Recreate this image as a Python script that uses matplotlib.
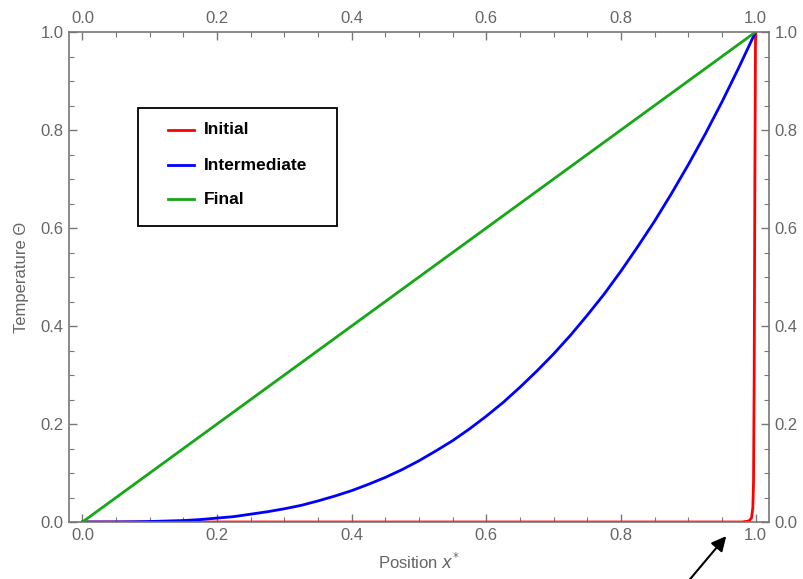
from matplotlib import pyplot as plt
from matplotlib.ticker import MultipleLocator
from matplotlib.patches import Rectangle

plt.rcParams['font.family'] = ['Liberation Sans', 'DejaVu Sans']

# Werte
x_init = [0.0, 0.5, 0.98, 0.99, 0.994, 0.996, 0.997, 0.998, 0.999, 1.0]
y_init = [0.0, 0.0, 0.0, 0.002, 0.008, 0.03, 0.08, 0.3, 0.7, 1.0]

x_mid = [0.0, 0.025, 0.05, 0.075, 0.10, 0.125, 0.15, 0.175, 0.20, 0.225,
         0.25, 0.275, 0.30, 0.325, 0.35, 0.375, 0.40, 0.425, 0.45, 0.475,
         0.50, 0.525, 0.55, 0.575, 0.60, 0.625, 0.65, 0.675, 0.70, 0.725,
         0.75, 0.775, 0.80, 0.825, 0.85, 0.875, 0.90, 0.925, 0.95, 0.975, 1.0]
y_mid = [0.0, 0.0, 0.0001, 0.0004, 0.001, 0.002, 0.003, 0.005, 0.008, 0.011,
         0.016, 0.021, 0.027, 0.034, 0.043, 0.053, 0.064, 0.077, 0.091, 0.107,
         0.125, 0.145, 0.166, 0.190, 0.216, 0.244, 0.275, 0.308, 0.343, 0.381,
         0.422, 0.465, 0.512, 0.562, 0.614, 0.670, 0.729, 0.791, 0.857, 0.927, 1.0]

x_final = [0.0, 1.0]
y_final = [0.0, 1.0]

labels = ["Initial", "Intermediate", "Final"]
colors = ["#ff0000", "#0000ff", "#16a616"]

grey = "#777777"
txt = "#666666"

fig = plt.figure(figsize=(8.04, 5.79), dpi=100)
ax = fig.add_axes([69/804, 57/579, 700/804, 490/579])

ax.plot(x_init, y_init, color=colors[0], lw=2)
ax.plot(x_mid, y_mid, color=colors[1], lw=2)
ax.plot(x_final, y_final, color=colors[2], lw=2)

ax.set_xlim(-0.02, 1.02)
ax.set_ylim(0, 1)

for a in (ax.xaxis, ax.yaxis):
    a.set_major_locator(MultipleLocator(0.2))
    a.set_minor_locator(MultipleLocator(0.05))
    a.set_major_formatter(plt.FormatStrFormatter('%.1f'))

ax.tick_params(which='both', direction='in', top=True, right=True,
               labeltop=True, labelright=True, color=grey,
               labelcolor=txt, labelsize=12, pad=4)
ax.tick_params(which='major', length=6, width=1)
ax.tick_params(which='minor', length=3.5, width=0.8)
for s in ax.spines.values():
    s.set_color(grey)
    s.set_linewidth(1.2)

ax.set_xlabel(r"Position $x^{*}$", color=txt, fontsize=12, labelpad=7)
ax.set_ylabel("Temperature Θ", color=txt, fontsize=12, labelpad=8)

# Legende von Hand
def px(x, y):
    return ((x - 69) / 700.0, (522 - y) / 490.0)

x0, y0 = px(138, 226)
x1, y1 = px(337, 108)
ax.add_patch(Rectangle((x0, y0), x1 - x0, y1 - y0, transform=ax.transAxes,
                       facecolor='white', edgecolor='black', lw=1.3, zorder=5))
rows = [130, 165, 199]
for i in range(len(labels)):
    hx0, hy = px(168, rows[i])
    hx1, _ = px(194, rows[i])
    tx, _ = px(204, rows[i])
    ax.plot([hx0, hx1], [hy, hy], color=colors[i], lw=2,
            transform=ax.transAxes, zorder=6)
    ax.text(tx, hy, labels[i], transform=ax.transAxes, fontsize=12.5,
            fontweight='bold', va='center', ha='left', color='black', zorder=6)

# Pfeil unten rechts
ax.annotate('', xy=(728/804, 45/579), xytext=(686/804, -5/579),
            xycoords='figure fraction', textcoords='figure fraction',
            arrowprops=dict(arrowstyle='-|>', color='black', lw=1.5,
                            mutation_scale=22), annotation_clip=False)

plt.savefig("out.png", dpi=100)
